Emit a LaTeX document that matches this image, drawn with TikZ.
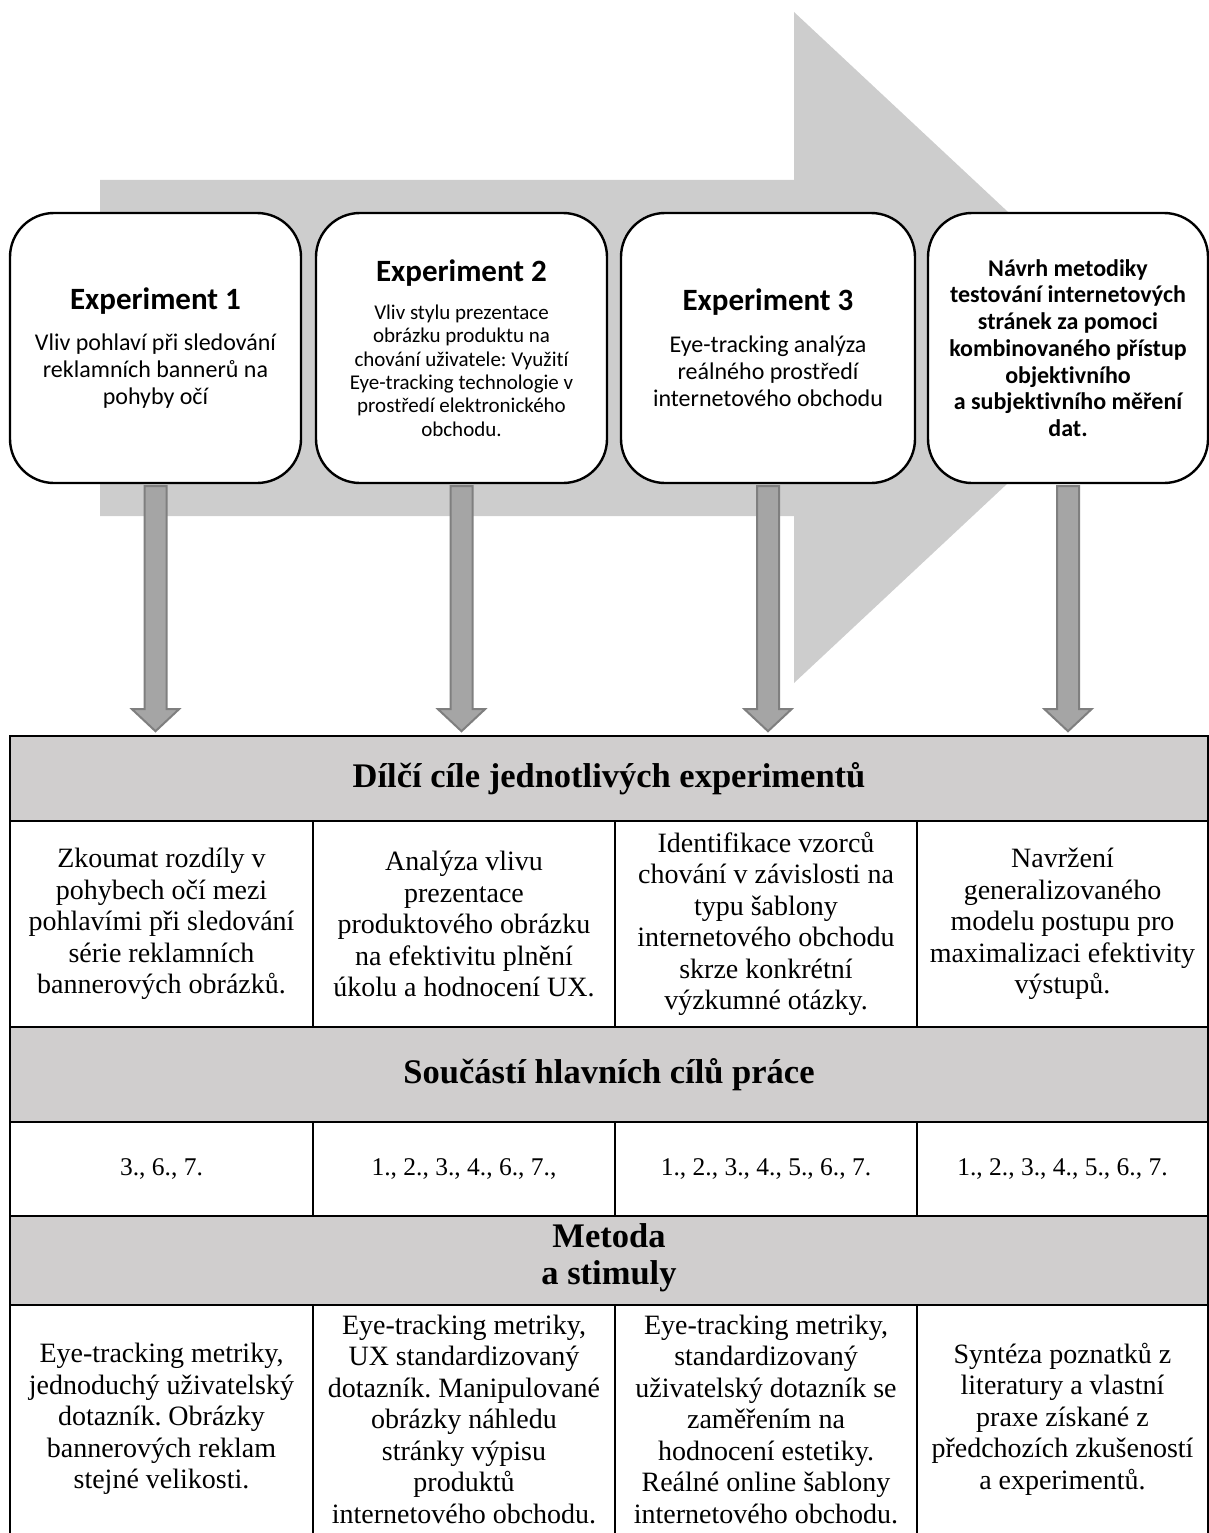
\documentclass[tikz,border=0pt]{standalone}
\usepackage{fontspec}
\setmainfont{Liberation Serif}
\newfontfamily\boxfont[Ligatures=NoCommon]{Carlito}
\usetikzlibrary{calc}
\frenchspacing

\definecolor{arrowgray}{HTML}{CDCDCD}
\definecolor{headgray}{HTML}{D0CECE}
\definecolor{stemgray}{HTML}{A5A5A5}
\definecolor{stemline}{HTML}{7F7F7F}

\tikzset{
	expbox/.style={draw, line width=2.4pt, fill=white, rounded corners=44pt, inner sep=0pt,
		minimum height=270pt, align=center, font=\boxfont\fontsize{24}{27}\selectfont},
	cell/.style={align=center, inner sep=0pt, font=\fontsize{28}{31.5}\selectfont},
	numcell/.style={cell, font=\fontsize{25.5}{31}\selectfont},
	headcell/.style={align=center, inner sep=0pt, font=\bfseries\fontsize{34.5}{37}\selectfont},
	downarrow/.style={fill=stemgray, draw=stemline, line width=2pt, line join=miter},
	gridline/.style={line width=2.5pt}
}
\newcommand{\exptitle}[1]{{\fontsize{31}{37}\selectfont\bfseries #1}}

\begin{document}
\begin{tikzpicture}[x=1pt,y=-1pt]
		\useasboundingbox (0,0) rectangle (1209,1533);
		% big arrow behind the boxes
		\fill[arrowgray] (100,180) -- (794,180) -- (794,12) -- (1153,347.5) -- (794,683) -- (794,516) -- (100,516) -- cycle;
		% experiment boxes
		\node[expbox, minimum width=291pt] (e1) at (155.5,348) {\exptitle{Experiment 1}\\[14pt]
			Vliv pohlaví při sledování\\ reklamních bannerů na\\ pohyby očí};
		\node[expbox, minimum width=291pt, font=\boxfont\fontsize{21}{23.3}\selectfont] (e2) at (461.5,348) {\exptitle{Experiment 2}\\[15pt]
			Vliv stylu prezentace\\ obrázku produktu na\\ chování uživatele: Využití\\ Eye-tracking technologie v\\ prostředí elektronického\\ obchodu.};
		\node[expbox, minimum width=294pt] (e3) at (768,348) {\exptitle{Experiment 3}\\[15pt]
			Eye-tracking analýza\\ reálného prostředí\\ internetového obchodu};
		\node[expbox, minimum width=280pt, font=\boxfont\bfseries\fontsize{24}{26.7}\selectfont] (e4) at (1068,348) {Návrh metodiky\\
			testování internetových\\ stránek za pomoci\\ kombinovaného přístup\\ objektivního\\ a subjektivního měření\\ dat.};
		% arrows down to the table
		\foreach \b in {e1,e2,e3,e4}
			\filldraw[downarrow] ($(\b.south)+(-11,2)$) -- ($(\b.south)+(11,2)$) -- ($(\b.south)+(11,225)$)
				-- ($(\b.south)+(23.5,225)$) -- ($(\b.south)+(0,247)$) -- ($(\b.south)+(-23.5,225)$)
				-- ($(\b.south)+(-11,225)$) -- cycle;
		% table: header rows
		\fill[headgray] (10,736) rectangle (1208,821);
		\fill[headgray] (10,1027) rectangle (1208,1122);
		\fill[headgray] (10,1216) rectangle (1208,1305);
		% table: grid
		\draw[gridline] (10,736) rectangle (1208,1535);
		\foreach \y in {821,1027,1122,1216,1305}
			\draw[gridline] (10,\y) -- (1208,\y);
		\foreach \x in {313,615,917} {
			\draw[gridline] (\x,821) -- (\x,1027);
			\draw[gridline] (\x,1122) -- (\x,1216);
			\draw[gridline] (\x,1305) -- (\x,1535);
		}
		% table: texts
		\node[headcell] (h1) at (609,778.5) {Dílčí cíle jednotlivých experimentů};
		\node[cell] (c1) at (161.5,924) {Zkoumat rozdíly v\\ pohybech očí mezi\\ pohlavími při sledování\\ série reklamních\\ bannerových obrázků.};
		\node[cell] (c2) at (464,924) {Analýza vlivu\\ prezentace\\ produktového obrázku\\ na efektivitu plnění\\ úkolu a hodnocení UX.};
		\node[cell] (c3) at (766,924) {Identifikace vzorců\\ chování v závislosti na\\ typu šablony\\ internetového obchodu\\ skrze konkrétní\\ výzkumné otázky.};
		\node[cell] (c4) at (1062.5,924) {Navržení\\ generalizovaného\\ modelu postupu pro\\ maximalizaci efektivity\\ výstupů.};
		\node[headcell] (h2) at (609,1074.5) {Součástí hlavních cílů práce};
		\node[numcell] (n1) at (161.5,1169) {3., 6., 7.};
		\node[numcell] (n2) at (464,1169) {1., 2., 3., 4., 6., 7.,};
		\node[numcell] (n3) at (766,1169) {1., 2., 3., 4., 5., 6., 7.};
		\node[numcell] (n4) at (1062.5,1169) {1., 2., 3., 4., 5., 6., 7.};
		\node[headcell] (h3) at (609,1258) {Metoda\\ a stimuly};
		\node[cell] (m1) at (161.5,1419) {Eye-tracking metriky,\\ jednoduchý uživatelský\\ dotazník. Obrázky\\ bannerových reklam\\ stejné velikosti.};
		\node[cell] (m2) at (464,1419) {Eye-tracking metriky,\\ UX standardizovaný\\ dotazník. Manipulované\\ obrázky náhledu\\ stránky výpisu\\ produktů\\ internetového obchodu.};
		\node[cell] (m3) at (766,1419) {Eye-tracking metriky,\\ standardizovaný\\ uživatelský dotazník se\\ zaměřením na\\ hodnocení estetiky.\\ Reálné online šablony\\ internetového obchodu.};
		\node[cell] (m4) at (1062.5,1419) {Syntéza poznatků z\\ literatury a vlastní\\ praxe získané z\\ předchozích zkušeností\\ a experimentů.};
	\end{tikzpicture}
\end{document}
